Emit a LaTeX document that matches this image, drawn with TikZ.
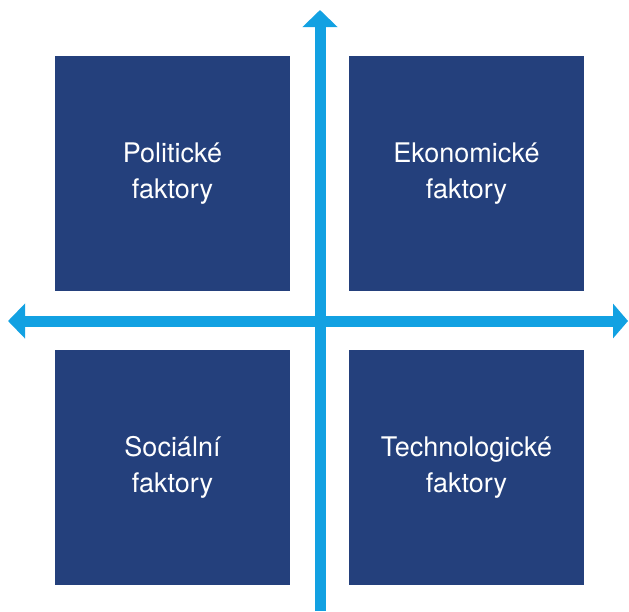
\documentclass[tikz,border=0pt]{standalone}
\usepackage{fontspec}
\setmainfont{TeX Gyre Heros}
\definecolor{boxblue}{RGB}{36, 64, 124}
\definecolor{axisblue}{RGB}{18, 161, 226}
\usetikzlibrary{arrows.meta, positioning}

\tikzset{
  factor/.style={fill=boxblue, minimum size=235pt, inner sep=0pt, text=white, align=center,
    font=\fontsize{27}{35.5}\selectfont},
  axis/.style={draw=axisblue, line width=11pt, -{Triangle[width=34pt, length=17pt]}}
}

\begin{document}
\begin{tikzpicture}[x=1pt, y=-1pt]
  \useasboundingbox (0,0) rectangle (629,611);

  % Factor squares
  \node[factor] (pol) at (172.5, 173.5) {Politické\\faktory};
  \node[factor] (eko) at (466.5, 173.5) {Ekonomické\\faktory};
  \node[factor] (soc) at (172.5, 467.5) {Sociální\\faktory};
  \node[factor] (tech) at (466.5, 467.5) {Technologické\\faktory};

  % Axes
  \coordinate (top) at (320, 10);
  \coordinate (bottom) at (320, 611);
  \coordinate (left) at (8, 321);
  \coordinate (right) at (628, 321);
  \draw[axis] (bottom) -- (top);
  \draw[axis, {Triangle[width=34pt, length=17pt]}-{Triangle[width=34pt, length=15pt]}] (left) -- (right);
\end{tikzpicture}
\end{document}
